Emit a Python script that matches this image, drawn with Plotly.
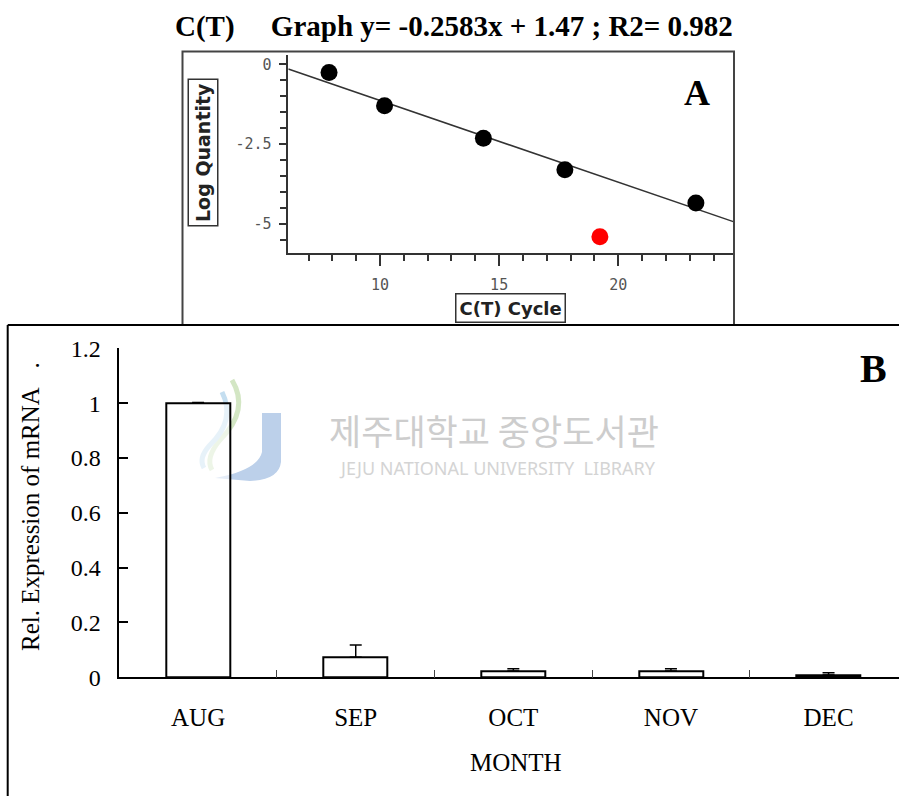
import plotly.graph_objects as go

W, H = 899, 796

# ---------------- data ----------------
# Panel A: standard curve
ct_cycle = [7.86, 10.19, 14.34, 17.76, 23.26]
log_qty = [-0.26, -1.30, -2.31, -3.30, -4.34]
outlier_cycle = [19.23]
outlier_log = [-5.39]
fit_cycle = [6.15, 24.83]
fit_log = [-0.15, -4.92]
a_xticks = [10, 15, 20]
a_yticks = [0, -2.5, -5]
a_yticklabels = ["0", "-2.5", "-5"]

# Panel B: relative expression
months = ["AUG", "SEP", "OCT", "NOV", "DEC"]
rel_expr = [1.0, 0.073, 0.023, 0.023, 0.008]
rel_err = [0.002, 0.045, 0.008, 0.008, 0.009]
b_yticks = [0, 0.2, 0.4, 0.6, 0.8, 1.0, 1.2]
b_yticklabels = ["0", "0.2", "0.4", "0.6", "0.8", "1", "1.2"]

title_text = "C(T)\u00a0\u00a0\u00a0\u00a0 Graph y= -0.2583x + 1.47 ; R2= 0.982"


def px(x):
    return x / W


def py(y):
    return 1 - y / H


SERIF = "Liberation Serif, Times New Roman, serif"
MONO = "DejaVu Sans Mono, monospace"
SANS_B = "DejaVu Sans, sans-serif"

fig = go.Figure()

# ---- panel A traces ----
fig.add_trace(go.Scatter(x=fit_cycle, y=fit_log, mode="lines",
                         line=dict(color="#333333", width=1.5),
                         xaxis="x", yaxis="y", showlegend=False, hoverinfo="skip"))
fig.add_trace(go.Scatter(x=ct_cycle, y=log_qty, mode="markers",
                         marker=dict(color="black", size=17, line=dict(width=0)),
                         xaxis="x", yaxis="y", showlegend=False))
fig.add_trace(go.Scatter(x=outlier_cycle, y=outlier_log, mode="markers",
                         marker=dict(color="#ff0000", size=17, line=dict(width=0)),
                         xaxis="x", yaxis="y", showlegend=False))

# ---- panel B traces ----
fig.add_trace(go.Bar(x=months, y=rel_expr, width=0.406,
                     marker=dict(color="rgba(255,255,255,0.6)", line=dict(color="black", width=2)),
                     error_y=dict(type="data", array=rel_err, arrayminus=[0] * len(rel_err),
                                  symmetric=False, color="black", thickness=1.5, width=6),
                     xaxis="x2", yaxis="y2", showlegend=False))

shapes = []
# watermark logo (faint)
shapes.append(dict(type="path", xref="paper", yref="paper", layer="below",
                   path=f"M {px(262)} {py(413)} L {px(281)} {py(413)} L {px(281)} {py(462)} "
                        f"Q {px(279)} {py(480)} {px(250)} {py(481)} L {px(215)} {py(478)} "
                        f"Q {px(258)} {py(470)} {px(262)} {py(452)} Z",
                   fillcolor="#bcd0ea", line=dict(width=0)))
shapes.append(dict(type="path", xref="paper", yref="paper", layer="below",
                   path=f"M {px(232)} {py(380)} Q {px(250)} {py(410)} {px(220)} {py(440)} "
                        f"Q {px(205)} {py(458)} {px(212)} {py(470)}",
                   line=dict(color="#d3e6c4", width=5)))
shapes.append(dict(type="path", xref="paper", yref="paper", layer="below",
                   path=f"M {px(222)} {py(392)} Q {px(236)} {py(420)} {px(210)} {py(445)} "
                        f"Q {px(198)} {py(458)} {px(204)} {py(468)}",
                   line=dict(color="#c4def0", width=5)))

# panel A frame
shapes.append(dict(type="rect", xref="paper", yref="paper",
                   x0=px(182.5), x1=px(734), y0=py(325), y1=py(51.5),
                   line=dict(color="#444444", width=2)))
# panel B frame (top + left)
shapes.append(dict(type="line", xref="paper", yref="paper",
                   x0=px(7.7), x1=px(899), y0=py(325), y1=py(325),
                   line=dict(color="black", width=2)))
shapes.append(dict(type="line", xref="paper", yref="paper",
                   x0=px(7.7), x1=px(7.7), y0=py(325), y1=py(796),
                   line=dict(color="black", width=2)))


def ann(text, x, y, **kw):
    d = dict(text=text, x=px(x), y=py(y), xref="paper", yref="paper",
             xanchor="center", yanchor="middle", showarrow=False)
    d.update(kw)
    return d


annotations = [
    ann(f"<b>{title_text}</b>", 453.5, 27, font=dict(family=SERIF, size=29, color="black")),
    ann("<b>A</b>", 697, 93, font=dict(family=SERIF, size=36, color="black")),
    ann("<b>B</b>", 873, 368, font=dict(family=SERIF, size=40, color="black")),
    ann("<b>Log Quantity</b>", 202.5, 153, textangle=-90,
        font=dict(family=SANS_B, size=19, color="#222222"),
        bordercolor="#333333", borderwidth=1.5, borderpad=3),
    ann("<b>C(T) Cycle</b>", 510.5, 307.5,
        font=dict(family=SANS_B, size=18, color="#222222"),
        bordercolor="#333333", borderwidth=1.5, borderpad=3),
    ann("Rel. Expression of mRNA\u00a0\u00a0\u00a0.", 30, 507, textangle=-90,
        font=dict(family=SERIF, size=25, color="black")),
    ann("MONTH", 515.8, 762.5, font=dict(family=SERIF, size=25, color="black")),
    # watermark
    ann("제주대학교 중앙도서관", 494, 429.5,
        font=dict(family="Noto Sans CJK KR", size=35, color="#cdcdcd")),
    ann("JEJU NATIONAL UNIVERSITY\u00a0\u00a0LIBRARY", 497, 468,
        font=dict(family="Noto Sans", size=18, color="#d4d4d4")),
]

fig.update_layout(
    template="none",
    width=W, height=H,
    margin=dict(l=0, r=0, t=0, b=0, pad=0),
    paper_bgcolor="white", plot_bgcolor="rgba(0,0,0,0)",
    shapes=shapes, annotations=annotations,
    bargap=0, showlegend=False,
    xaxis=dict(domain=[px(288.3), px(733.3)], range=[6.15, 24.83], anchor="y", automargin=False,
               showline=True, linecolor="#333333", linewidth=1.5,
               tickvals=a_xticks, ticks="outside", ticklen=11, tickwidth=1.5, tickcolor="#333333",
               minor=dict(dtick=1, tick0=0, ticks="outside", ticklen=6, tickwidth=1.5, tickcolor="#333333",
                          showgrid=False),
               showgrid=False, zeroline=False, ticklabelstandoff=6,
               tickfont=dict(family=MONO, size=15, color="#555555")),
    yaxis=dict(domain=[py(253), py(55)], range=[-5.9, 0.29], anchor="x", automargin=False,
               showline=True, linecolor="#333333", linewidth=1.5,
               tickvals=a_yticks, ticktext=a_yticklabels, ticks="outside", ticklen=8, tickwidth=1.5,
               tickcolor="#333333",
               minor=dict(dtick=0.5, tick0=0, ticks="outside", ticklen=7, tickwidth=1.5, tickcolor="#333333",
                          showgrid=False),
               showgrid=False, zeroline=False, ticklabelstandoff=4,
               tickfont=dict(family=MONO, size=15, color="#555555")),
    xaxis2=dict(domain=[px(119.3), 1.0], range=[-0.5, 4.447], anchor="y2", type="category", automargin=False,
                showline=True, linecolor="black", linewidth=1.5,
                ticks="inside", tickson="boundaries", ticklen=8, tickwidth=1, tickcolor="#444444",
                showgrid=False, zeroline=False, ticklabelstandoff=17,
                tickfont=dict(family=SERIF, size=25, color="black")),
    yaxis2=dict(domain=[py(677.3), py(348.3)], range=[0, 1.2], anchor="x2", automargin=False,
                showline=True, linecolor="black", linewidth=1.5,
                tickvals=b_yticks, ticktext=b_yticklabels,
                ticks="inside", ticklen=9, tickwidth=1.5, tickcolor="black",
                showgrid=False, zeroline=False, ticklabelstandoff=12,
                tickfont=dict(family=SERIF, size=24, color="black")),
)

fig.write_html("out.html")
